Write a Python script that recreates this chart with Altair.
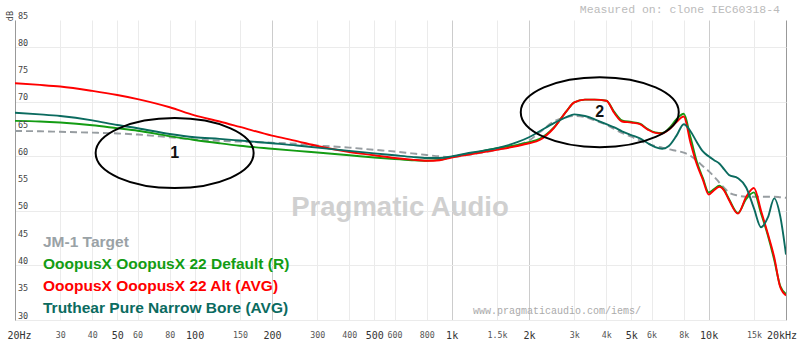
import altair as alt
import pandas as pd

# ---------------- data ----------------
freqs = [20, 25, 30, 40, 50, 60, 80, 100, 125, 150,
         200, 250, 300, 400, 500, 600, 700, 800, 900, 1000,
         1200, 1500, 1800, 2000, 2200, 2500, 2800, 3000, 3300, 3600,
         4000, 4300, 4600, 5000, 5400, 5800, 6200, 6600, 7000, 7500,
         8000, 8500, 9000, 9500, 10000, 10500, 11000, 11500, 12000, 13000,
         14000, 15000, 16000, 17000, 18000, 19000, 20000]

target_db = [64.65, 64.6, 64.5, 64.35, 64.2, 64.0, 63.5, 63.1, 62.85, 62.7,
             62.5, 62.3, 62.0, 61.6, 61.2, 60.9, 60.55, 60.25, 60.0, 59.9,
             60.4, 61.2, 62.1, 62.9, 64.4, 66.4, 67.2, 67.4, 67.2, 66.6,
             65.8, 65.0, 64.3, 63.6, 62.9, 62.3, 61.9, 61.6, 61.3, 61.0,
             60.7, 60.1, 59.2, 58.2, 57.3, 56.3, 55.2, 54.2, 53.4, 52.8,
             52.6, 52.6, 52.6, 52.6, 52.6, 52.5, 52.4]

default_db = [66.5, 66.4, 66.2, 65.7, 65.15, 64.7, 63.7, 63.0, 62.4, 61.95,
              61.4, 61.0, 60.7, 60.2, 59.8, 59.5, 59.3, 59.2, 59.35, 59.9,
              60.6, 61.5, 62.1, 62.6, 63.2, 65.3, 68.3, 69.9, 70.4, 70.4,
              70.2, 68.1, 66.6, 66.3, 66.0, 65.0, 64.4, 64.3, 65.1, 66.8,
              67.8, 63.5, 59.0, 56.0, 53.4, 54.0, 54.6, 53.8, 52.2, 49.6,
              52.2, 53.4, 49.5, 45.5, 41.0, 36.2, 34.8]

alt_db = [73.4, 73.1, 72.8, 72.0, 71.25, 70.5, 69.0, 67.5, 66.4, 65.4,
          63.8, 62.8, 61.9, 60.8, 60.2, 59.7, 59.4, 59.2, 59.3, 59.8,
          60.4, 61.2, 61.9, 62.4, 63.0, 65.2, 68.3, 69.9, 70.4, 70.4,
          70.2, 67.9, 66.4, 66.2, 65.9, 64.9, 64.3, 64.2, 64.9, 66.3,
          67.3, 62.5, 58.5, 55.7, 53.0, 53.8, 54.4, 53.7, 52.0, 49.5,
          52.6, 54.2, 50.0, 45.8, 41.5, 36.0, 34.5]

truthear_db = [68.0, 67.7, 67.4, 66.6, 65.75, 65.15, 64.1, 63.5, 63.2, 62.9,
               62.4, 62.0, 61.6, 61.0, 60.55, 60.2, 59.9, 59.7, 59.7, 60.0,
               60.7, 61.5, 62.6, 63.5, 64.6, 66.1, 67.2, 67.7, 67.4, 66.8,
               65.9, 65.3, 64.6, 63.9, 63.3, 62.4, 61.7, 61.4, 61.9, 63.8,
               65.9, 64.6, 62.6, 60.9, 60.0, 59.3, 58.7, 57.6, 56.6, 56.0,
               54.3, 50.5, 47.0, 48.8, 52.3, 49.0, 42.0]

series_names = ["JM-1 Target",
                "OoopusX OoopusX 22 Default (R)",
                "OoopusX OoopusX 22 Alt (AVG)",
                "Truthear Pure Narrow Bore (AVG)"]
series_values = [target_db, default_db, alt_db, truthear_db]
series_colors = ["#979da1", "#139c13", "#ff0000", "#0b6b5f"]
legend_colors = ["#9aa2a6", "#139c13", "#ff0000", "#0b6b5f"]

x_ticks = [20, 30, 40, 50, 60, 80, 100, 150, 200, 300, 400, 500, 600, 800,
           1000, 1500, 2000, 3000, 4000, 5000, 6000, 8000, 10000, 15000, 20000]
x_major = [20, 50, 100, 200, 500, 1000, 2000, 5000, 10000, 20000]
y_ticks = [30, 35, 40, 45, 50, 55, 60, 65, 70, 75, 80, 85]

ann_freq = [83.6, 3770]
ann_db = [60.6, 68.1]
ann_text = ["1", "2"]

# ---------------- scales / axes ----------------
W, H = 771, 300
xscale = alt.Scale(type="log", domain=[20, 20000], nice=False)
yscale = alt.Scale(domain=[30, 85], nice=False, zero=False)

major_test = "indexof([" + ",".join(str(v) for v in x_major) + "], datum.value) >= 0"
label_expr = ("datum.value == 20 ? '20Hz' : datum.value == 20000 ? '20kHz' : "
              "datum.value >= 1000 ? (datum.value / 1000) + 'k' : '' + datum.value")

x_axis = alt.Axis(
    values=x_ticks, labelExpr=label_expr, title=None,
    grid=True, ticks=False, domain=False, labelOverlap=False, labelFlush=False,
    gridColor={"condition": [
        {"test": "datum.value == 20000", "value": "#999999"},
        {"test": "indexof([200, 1000, 2000, 10000], datum.value) >= 0", "value": "#cccccc"}],
        "value": "#ebebeb"},
    labelFontSize={"condition": {"test": major_test, "value": 10}, "value": 8.3},
    labelColor={"condition": {"test": major_test, "value": "#333333"}, "value": "#555555"},
    labelOffset={"condition": [
        {"test": "datum.value == 20", "value": 4},
        {"test": "datum.value == 20000", "value": -4.5}], "value": 0},
    labelFont="DejaVu Sans Mono", labelBaseline="middle", labelPadding=15,
)
y_axis = alt.Axis(values=y_ticks, labels=False, ticks=False, title=None,
                  domain=True, domainColor="#999999", domainWidth=1,
                  grid=True, gridColor="#ebebeb")

layers = []
for i, (name, vals, col) in enumerate(zip(series_names, series_values, series_colors)):
    df = pd.DataFrame({"freq": freqs, "db": vals})
    props = dict(strokeWidth=1.9, interpolate="monotone", clip=True, color=col)
    if i == 0:
        props["strokeDash"] = [7, 4]
    enc = dict(x=alt.X("freq:Q", scale=xscale, axis=x_axis),
               y=alt.Y("db:Q", scale=yscale, axis=y_axis))
    layers.append(alt.Chart(df).mark_line(**props).encode(**enc))

# ellipses (annotations)
k = 0.5523
b = 0.443
ell = (f"M -1 0 C -1 {-b*k:.4f} {-k:.4f} {-b} 0 {-b} "
       f"C {k:.4f} {-b} 1 {-b*k:.4f} 1 0 "
       f"C 1 {b*k:.4f} {k:.4f} {b} 0 {b} "
       f"C {-k:.4f} {b} -1 {b*k:.4f} -1 0 Z")
ann_df = pd.DataFrame({"freq": ann_freq, "db": ann_db, "t": ann_text})
layers.append(alt.Chart(ann_df).mark_point(shape=ell, size=158 * 158, filled=False,
                                           stroke="black", strokeWidth=2, opacity=1).encode(
    x=alt.X("freq:Q", scale=xscale), y=alt.Y("db:Q", scale=yscale)))
layers.append(alt.Chart(ann_df).mark_text(font="Liberation Sans", fontWeight="bold", fontSize=16,
                                          color="#111111", baseline="middle").encode(
    x=alt.X("freq:Q", scale=xscale), y=alt.Y("db:Q", scale=yscale), text="t:N"))

# y tick labels inside the plot
yl_df = pd.DataFrame({"v": y_ticks})
layers.append(alt.Chart(yl_df).mark_text(font="DejaVu Sans Mono", fontSize=8.5, color="#444444",
                                         align="left", baseline="alphabetic", dy=-1.5).encode(
    x=alt.value(3), y=alt.Y("v:Q", scale=yscale), text="v:N"))

# dB unit label
layers.append(alt.Chart(pd.DataFrame({"t": ["dB"]})).mark_text(
    font="DejaVu Sans Mono", fontSize=8.5, color="#444444", angle=270,
    align="center", baseline="middle").encode(x=alt.value(-5), y=alt.value(-4), text="t:N"))

# legend text
for i, (name, col) in enumerate(zip(series_names, legend_colors)):
    layers.append(alt.Chart(pd.DataFrame({"t": [name]})).mark_text(
        font="Liberation Sans", fontWeight="bold", fontSize=15.5, color=col,
        align="left", baseline="middle").encode(
        x=alt.value(28), y=alt.value(222 + i * 22), text="t:N"))

# watermarks
layers.append(alt.Chart(pd.DataFrame({"t": ["Pragmatic Audio"]})).mark_text(
    font="Liberation Sans", fontWeight="bold", fontSize=27.5, color="#d0d0d0",
    align="center", baseline="middle").encode(x=alt.value(385), y=alt.value(188), text="t:N"))
layers.append(alt.Chart(pd.DataFrame({"t": ["www.pragmaticaudio.com/iems/"]})).mark_text(
    font="Liberation Mono", fontSize=10, color="#aaaaaa",
    align="left", baseline="middle").encode(x=alt.value(458), y=alt.value(291), text="t:N"))
layers.append(alt.Chart(pd.DataFrame({"t": ["Measured on: clone IEC60318-4"]})).mark_text(
    font="Liberation Mono", fontSize=11.5, color="#bbbbbb",
    align="right", baseline="middle").encode(x=alt.value(765), y=alt.value(-10), text="t:N"))

chart = alt.layer(*layers).properties(
    width=W, height=H,
    padding={"left": 15, "top": 20, "right": 14, "bottom": 26},
    autosize=alt.AutoSizeParams(type="none"),
    background="white",
).configure_view(stroke=None)

chart.save("out.html", embed_options={"renderer": "svg", "actions": False})
